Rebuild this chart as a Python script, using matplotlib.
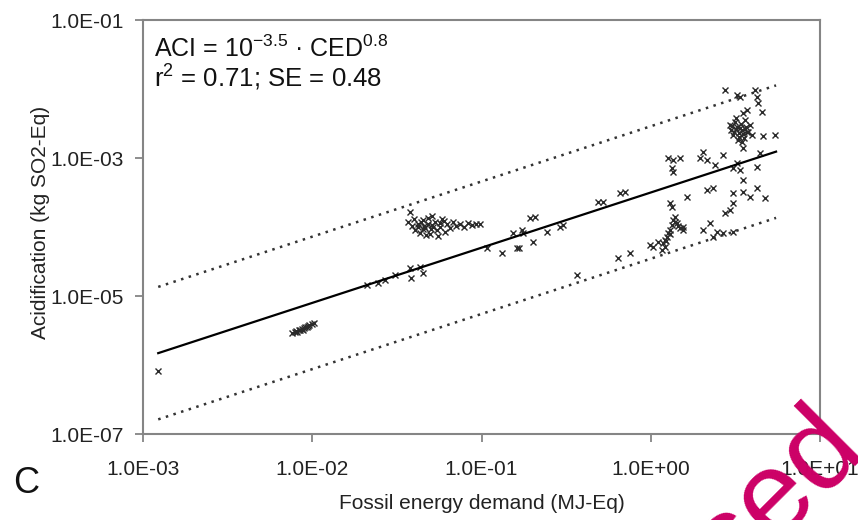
import numpy as np
import matplotlib
matplotlib.use("Agg")
import matplotlib.pyplot as plt
from matplotlib.ticker import FixedLocator, FuncFormatter, NullLocator

plt.rcParams['font.family'] = ['Liberation Sans', 'DejaVu Sans']
plt.rcParams['mathtext.fontset'] = 'custom'
plt.rcParams['mathtext.rm'] = 'Liberation Sans'
plt.rcParams['mathtext.it'] = 'Liberation Sans:italic'
plt.rcParams['mathtext.bf'] = 'Liberation Sans:bold'

# ---- data ----
ced_a = [1.23e-3]
aci_a = [8.2e-7]

ced_b = [7.6e-3, 7.9e-3, 8.1e-3, 8.3e-3, 8.5e-3, 8.7e-3, 8.9e-3, 9.1e-3, 9.3e-3, 9.6e-3, 9.9e-3, 1.03e-2, 8.0e-3, 8.8e-3, 9.4e-3]
aci_b = [2.9e-6, 3.0e-6, 3.05e-6, 3.2e-6, 3.25e-6, 3.35e-6, 3.4e-6, 3.5e-6, 3.6e-6, 3.75e-6, 3.9e-6, 4.1e-6, 3.1e-6, 3.2e-6, 3.7e-6]

ced_c = [0.0210, 0.0245, 0.027, 0.0308, 0.0378, 0.0383, 0.0433, 0.0451]
aci_c = [1.44e-5, 1.54e-5, 1.7e-5, 2.01e-5, 2.55e-5, 1.82e-5, 2.63e-5, 2.15e-5]

ced_d = [0.0378, 0.0368, 0.0388, 0.0404, 0.0422, 0.0434, 0.0451, 0.0463, 0.0483, 0.0497,
         0.0511, 0.0531, 0.0546, 0.0569, 0.0585, 0.0608, 0.0625, 0.0652, 0.0679, 0.0706,
         0.0746, 0.0789, 0.0832, 0.0879, 0.0929, 0.0980, 0.0399, 0.0470, 0.0553, 0.0511,
         0.0600, 0.042, 0.045, 0.048, 0.050, 0.044, 0.052, 0.057, 0.046]
aci_d = [1.65e-4, 1.18e-4, 1.03e-4, 9.05e-5, 1.10e-4, 8.2e-5, 1.26e-4, 9.7e-5, 1.35e-4, 7.9e-5,
         1.07e-4, 1.18e-4, 9.05e-5, 1.0e-4, 1.31e-4, 8.5e-5, 1.10e-4, 9.7e-5, 1.18e-4, 1.03e-4,
         1.10e-4, 1.0e-4, 1.14e-4, 1.07e-4, 1.10e-4, 1.10e-4, 1.31e-4, 7.7e-5, 7.4e-5, 1.44e-4,
         1.22e-4, 1.0e-4, 9.5e-5, 1.12e-4, 9.3e-5, 1.2e-4, 1.0e-4, 1.15e-4, 1.05e-4]

ced_e = [0.194, 0.207, 0.153, 0.173, 0.176, 0.201, 0.162, 0.167, 0.132, 0.244, 0.291, 0.303, 0.108, 0.366]
aci_e = [1.35e-4, 1.40e-4, 8.2e-5, 9.05e-5, 8.2e-5, 6.07e-5, 4.96e-5, 4.96e-5, 4.2e-5, 8.5e-5, 1.0e-4, 1.07e-4, 4.96e-5, 2.01e-5]

ced_f = [0.487, 0.522, 0.658, 0.705, 0.640, 0.754, 0.99, 1.10, 1.03]
aci_f = [2.30e-4, 2.30e-4, 3.11e-4, 3.2e-4, 3.55e-5, 4.2e-5, 5.5e-5, 6.07e-5, 5.1e-5]

ced_g = [1.26, 1.35, 1.49, 1.34, 1.35, 1.64, 1.30, 1.34, 1.35, 1.43, 1.49, 1.55, 1.30, 1.25,
         1.18, 1.21, 1.16, 1.39, 1.34, 1.26, 1.55, 1.21, 1.30, 1.40, 1.45, 1.23]
aci_g = [1.0e-3, 9.35e-4, 1.0e-3, 7.2e-4, 6.3e-4, 2.72e-4, 2.23e-4, 1.95e-4, 1.26e-4, 1.14e-4,
         9.7e-5, 9.05e-5, 9.05e-5, 7.2e-5, 5.9e-5, 5.1e-5, 4.6e-5, 1.40e-4, 1.07e-4, 8.2e-5,
         1.0e-4, 6.5e-5, 8.0e-5, 1.2e-4, 1.05e-4, 6.2e-5]

ced_h = [2.75, 3.24, 3.37, 4.13, 4.25, 4.31, 4.55, 3.71, 3.51,
         2.94, 3.15, 3.37, 3.61, 3.76, 3.06, 3.28, 3.46, 3.86, 3.19, 3.56, 2.98, 3.66, 3.32, 3.97,
         3.51, 4.61, 5.42, 2.04, 1.96, 2.15, 2.40, 2.67, 4.42, 3.24, 3.06, 3.37, 3.51, 4.25,
         2.15, 2.33, 3.06, 3.51, 3.86, 4.25, 4.73, 3.06, 2.94, 2.75, 2.24, 2.04, 2.46, 2.67,
         2.33, 3.06, 3.2, 3.4, 3.0, 3.5, 3.3, 3.6, 3.1, 3.45, 3.25, 3.7]
aci_h = [9.7e-3, 8.2e-3, 7.66e-3, 9.7e-3, 7.66e-3, 6.27e-3, 4.64e-3, 4.96e-3, 4.49e-3,
         3.01e-3, 3.33e-3, 2.72e-3, 3.56e-3, 2.38e-3, 2.15e-3, 1.82e-3, 2.55e-3, 3.01e-3, 3.80e-3,
         1.95e-3, 2.55e-3, 2.81e-3, 2.30e-3, 2.15e-3,
         1.40e-3, 2.08e-3, 2.15e-3, 1.22e-3, 1.0e-3, 9.35e-4, 7.9e-4, 1.10e-3, 1.18e-3, 8.5e-4,
         7.2e-4, 6.7e-4, 4.8e-4, 7.4e-4,
         3.44e-4, 3.67e-4, 3.11e-4, 3.2e-4, 2.72e-4, 3.67e-4, 2.63e-4, 2.23e-4, 1.76e-4, 1.60e-4,
         1.14e-4, 9.05e-5, 8.5e-5, 8.2e-5, 7.2e-5, 8.5e-5,
         2.6e-3, 3.1e-3, 2.9e-3, 2.2e-3, 2.0e-3, 2.6e-3, 2.4e-3, 1.7e-3, 2.8e-3, 2.4e-3]

# regression: ACI = 10^-3.5 * CED^0.8, band = +/- 2*SE (log units)
fit_log_intercept = -3.5
fit_slope = 0.8
fit_se = 0.48
fit_range = [1.23e-3, 5.5]

x_ticks = [1e-3, 1e-2, 1e-1, 1e0, 1e1]
y_ticks = [1e-7, 1e-5, 1e-3, 1e-1]

# ---- figure ----
fig = plt.figure(figsize=(8.58, 5.20), dpi=100)
ax = fig.add_axes([143 / 858, 1 - 434 / 520, 677 / 858, 414 / 520])
ax.set_xscale('log')
ax.set_yscale('log')
ax.set_xlim(1e-3, 1e1)
ax.set_ylim(1e-7, 1e-1)

ced = np.concatenate([ced_a, ced_b, ced_c, ced_d, ced_e, ced_f, ced_g, ced_h])
aci = np.concatenate([aci_a, aci_b, aci_c, aci_d, aci_e, aci_f, aci_g, aci_h])
ax.plot(ced, aci, linestyle='none', marker='x', ms=4.8, mew=1.0, color='#2a2a2a', zorder=3)

xf = np.logspace(np.log10(fit_range[0]), np.log10(fit_range[1]), 100)
yf = 10 ** (fit_log_intercept + fit_slope * np.log10(xf))
ax.plot(xf, yf, color='black', lw=1.6, zorder=4)
band = 2 * fit_se
ax.plot(xf, yf * 10 ** band, color='#333333', lw=1.8, linestyle=(0, (1, 2.2)), zorder=2)
ax.plot(xf, yf * 10 ** (-band), color='#333333', lw=1.8, linestyle=(0, (1, 2.2)), zorder=2)

for s in ax.spines.values():
    s.set_color('#858585')
    s.set_linewidth(1.5)

fmt = FuncFormatter(lambda v, p: f"{v:.1E}")
ax.xaxis.set_major_locator(FixedLocator(x_ticks))
ax.yaxis.set_major_locator(FixedLocator(y_ticks))
ax.xaxis.set_minor_locator(NullLocator())
ax.yaxis.set_minor_locator(NullLocator())
ax.xaxis.set_major_formatter(fmt)
ax.yaxis.set_major_formatter(fmt)
ax.tick_params(axis='x', direction='out', length=6, width=1.3, color='#858585',
               labelsize=15, labelcolor='#222222', pad=13)
ax.tick_params(axis='y', direction='out', length=6, width=1.3, color='#858585',
               labelsize=15, labelcolor='#222222', pad=8)

ax.set_xlabel('Fossil energy demand (MJ-Eq)', fontsize=15, color='#222222')
ax.set_ylabel('Acidification (kg SO2-Eq)', fontsize=15, color='#222222')
ax.xaxis.set_label_coords(0.5, -0.145)
ax.yaxis.set_label_coords(-0.137, 0.512)

ax.text(0.0162, 0.9106, r'ACI = 10$^{\mathrm{-3.5}}$ · CED$^{\mathrm{0.8}}$', transform=ax.transAxes,
        fontsize=18, va='baseline', ha='left', color='#111111')
ax.text(0.0162, 0.838, r'r$^{\mathrm{2}}$ = 0.71; SE = 0.48', transform=ax.transAxes,
        fontsize=18.5, va='baseline', ha='left', color='#111111')

fig.text(13 / 858, 1 - 493 / 520, 'C', fontsize=26, ha='left', va='baseline', color='#111111')

fig.text(866 / 858, 1 - 446 / 520, 'Licensed', fontsize=85, color='#CC0066', rotation=45,
         rotation_mode='anchor', ha='right', va='baseline')

fig.savefig('out.png', dpi=100)
